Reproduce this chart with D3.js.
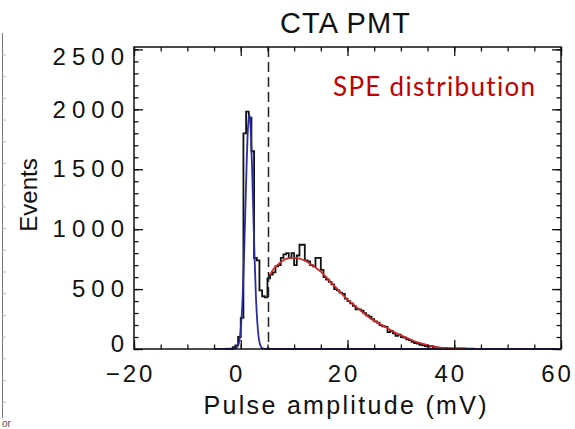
<!DOCTYPE html>
<html>
<head>
<meta charset="utf-8">
<script src="https://cdn.jsdelivr.net/npm/d3@7"></script>
<style>
body { margin: 0; background: #fff; }
text { font-family: "Liberation Sans", Arial, sans-serif; }
</style>
</head>
<body>
<script>
// histogram, 0.5 mV bins starting at -3 mV
var binStart = -3;
var binWidth = 0.5;
var counts = [0, 0, 0, 15, 30, 100, 260, 1800, 1980, 1930,
              1650, 760, 740, 490, 440, 430, 590, 620, 640, 690,
              700, 760, 790, 800, 760, 800, 700, 780, 870, 870,
              740, 730, 700, 690, 760, 760, 660, 600, 580, 560,
              540, 500, 490, 470, 460, 420, 400, 380, 360, 330,
              330, 320, 300, 280, 270, 250, 230, 220, 200, 190,
              185, 140, 150, 130, 110, 120, 100, 95, 80, 75,
              60, 50, 45, 35, 30, 25, 20, 25, 15, 12,
              10, 8, 10, 5, 5, 4, 3, 5, 6, 4,
              3, 3, 2, 0];

// pedestal gaussian fit (blue)
var pedX = [-5, -1.0, -0.4, -0.15, 0.1, 0.35, 0.6, 0.85, 1.1, 1.35, 1.6, 1.85, 2.1, 2.35, 2.6, 2.85, 3.1, 3.35, 3.6, 4.1, 5, 60];
var pedY = [0, 5, 40, 100, 225, 430, 750, 1140, 1540, 1845, 1960, 1845, 1540, 1140, 750, 430, 225, 100, 40, 5, 0, 0];

// single photo-electron fit (red)
var speX = [5.5, 6, 7, 8, 9, 10, 11, 12, 13, 14, 15, 16, 17, 18, 19, 20, 21, 22, 23, 24, 25, 26, 27, 28, 29, 30, 31, 32, 33, 34, 35, 36, 37, 38, 39, 40, 41, 42];
var speY = [617, 660, 705, 740, 758, 762, 755, 738, 712, 680, 645, 600, 552, 505, 458, 412, 375, 340, 300, 265, 235, 210, 185, 160, 135, 115, 95, 75, 58, 45, 33, 22, 14, 9, 5, 3, 1, 0];

var xTicks = [-20, 0, 20, 40, 60];
var yTicks = [0, 500, 1000, 1500, 2000, 2500];
var threshold = 5.2;

var width = 575, height = 429;

var x = d3.scaleLinear().domain([-20, 60]).range([134, 561]);
var y = d3.scaleLinear().domain([0, 2520]).range([349, 47]);

var svg = d3.select("body").append("svg")
    .attr("width", width).attr("height", height);

// leftover edge of the neighbouring slide
svg.append("line")
    .attr("x1", 2.5).attr("x2", 2.5).attr("y1", 33).attr("y2", 418)
    .attr("stroke", "#777").attr("stroke-width", 1);
svg.selectAll(".edgetick")
    .data(d3.range(55, 415, 21.7))
    .enter().append("line")
    .attr("x1", 2.5).attr("x2", 6)
    .attr("y1", function(d){ return d; }).attr("y2", function(d){ return d; })
    .attr("stroke", "#bbb");
svg.append("text")
    .attr("x", 2).attr("y", 427)
    .style("font-size", "10px").style("fill", "#555")
    .text("or");

// histogram (step)
var histPts = counts.map(function(c, i){ return [binStart + i*binWidth, c]; });
histPts.push([binStart + counts.length*binWidth, 0]);

var step = d3.line()
    .x(function(d){ return x(d[0]); })
    .y(function(d){ return y(d[1]); })
    .curve(d3.curveStepAfter);

svg.append("path")
    .attr("d", step(histPts))
    .attr("fill", "none").attr("stroke", "#111").attr("stroke-width", 1.8);

var smooth = d3.line()
    .x(function(d){ return x(d[0]); })
    .y(function(d){ return y(d[1]); })
    .curve(d3.curveMonotoneX);

svg.append("path")
    .attr("d", smooth(pedX.map(function(v, i){ return [v, pedY[i]]; })))
    .attr("fill", "none").attr("stroke", "#2b2ba6").attr("stroke-width", 1.8);

svg.append("path")
    .attr("d", smooth(speX.map(function(v, i){ return [v, speY[i]]; })))
    .attr("fill", "none").attr("stroke", "#d42a2a").attr("stroke-width", 1.8);

// threshold
svg.append("line")
    .attr("x1", x(threshold)).attr("x2", x(threshold))
    .attr("y1", y.range()[1]).attr("y2", y.range()[0])
    .attr("stroke", "#222").attr("stroke-width", 1.5)
    .attr("stroke-dasharray", "10,5");

// axes: minor + major ticks, inward, on all four sides
function tidy(g){ g.select(".domain").remove(); g.selectAll("line").attr("stroke", "#111").attr("stroke-width", 1.3); }

svg.append("g").attr("transform", "translate(0,349)")
    .call(d3.axisBottom(x).tickValues(d3.range(-20, 61, 5)).tickSize(-4.5).tickFormat(""))
    .call(tidy);
svg.append("g").attr("transform", "translate(0,47)")
    .call(d3.axisTop(x).tickValues(d3.range(-20, 61, 5)).tickSize(-4.5).tickFormat(""))
    .call(tidy);
svg.append("g").attr("transform", "translate(0,47)")
    .call(d3.axisTop(x).tickValues(xTicks).tickSize(-9).tickFormat(""))
    .call(tidy);
var xg = svg.append("g").attr("transform", "translate(0,349)")
    .call(d3.axisBottom(x).tickValues(xTicks).tickSize(-9).tickPadding(16))
    .call(tidy);
xg.selectAll("text")
    .attr("fill", "#111").style("font-size", "24px").style("letter-spacing", "3px")
    .attr("dx", "-4px");

svg.append("g").attr("transform", "translate(134,0)")
    .call(d3.axisLeft(y).tickValues(d3.range(0, 2501, 100)).tickSize(-4.5).tickFormat(""))
    .call(tidy);
svg.append("g").attr("transform", "translate(561,0)")
    .call(d3.axisRight(y).tickValues(d3.range(0, 2501, 100)).tickSize(-4.5).tickFormat(""))
    .call(tidy);
svg.append("g").attr("transform", "translate(561,0)")
    .call(d3.axisRight(y).tickValues(yTicks).tickSize(-9).tickFormat(""))
    .call(tidy);
var yg = svg.append("g").attr("transform", "translate(134,0)")
    .call(d3.axisLeft(y).tickValues(yTicks).tickSize(-9).tickPadding(4).tickFormat(d3.format("d")))
    .call(tidy);
yg.selectAll("text")
    .attr("fill", "#111").style("font-size", "24px").style("letter-spacing", "6px")
    .attr("y", function(d){ return d === 0 ? -5 : (d === 2500 ? 7 : 0); });

// frame
svg.append("rect")
    .attr("x", 134).attr("y", 47).attr("width", 561 - 134).attr("height", 349 - 47)
    .attr("fill", "none").attr("stroke", "#111").attr("stroke-width", 1.5);

// titles
svg.append("text")
    .attr("x", 345).attr("y", 33).attr("text-anchor", "middle")
    .attr("textLength", 130).attr("lengthAdjust", "spacing")
    .style("font-size", "29px").style("fill", "#111")
    .text("CTA PMT");

svg.append("text")
    .attr("x", 345).attr("y", 414).attr("text-anchor", "middle")
    .attr("textLength", 283).attr("lengthAdjust", "spacing")
    .style("font-size", "25px").style("fill", "#111")
    .text("Pulse amplitude (mV)");

svg.append("text")
    .attr("transform", "translate(37,195)rotate(-90)")
    .attr("text-anchor", "middle")
    .style("font-size", "24px").style("fill", "#111")
    .text("Events");

svg.append("text")
    .attr("x", 333).attr("y", 96)
    .attr("textLength", 202).attr("lengthAdjust", "spacing")
    .style("font-family", "Lato, 'Open Sans', sans-serif")
    .style("font-variant-ligatures", "none")
    .style("font-size", "26px").style("fill", "#c00000")
    .text("SPE distribution");
</script>
</body>
</html>
